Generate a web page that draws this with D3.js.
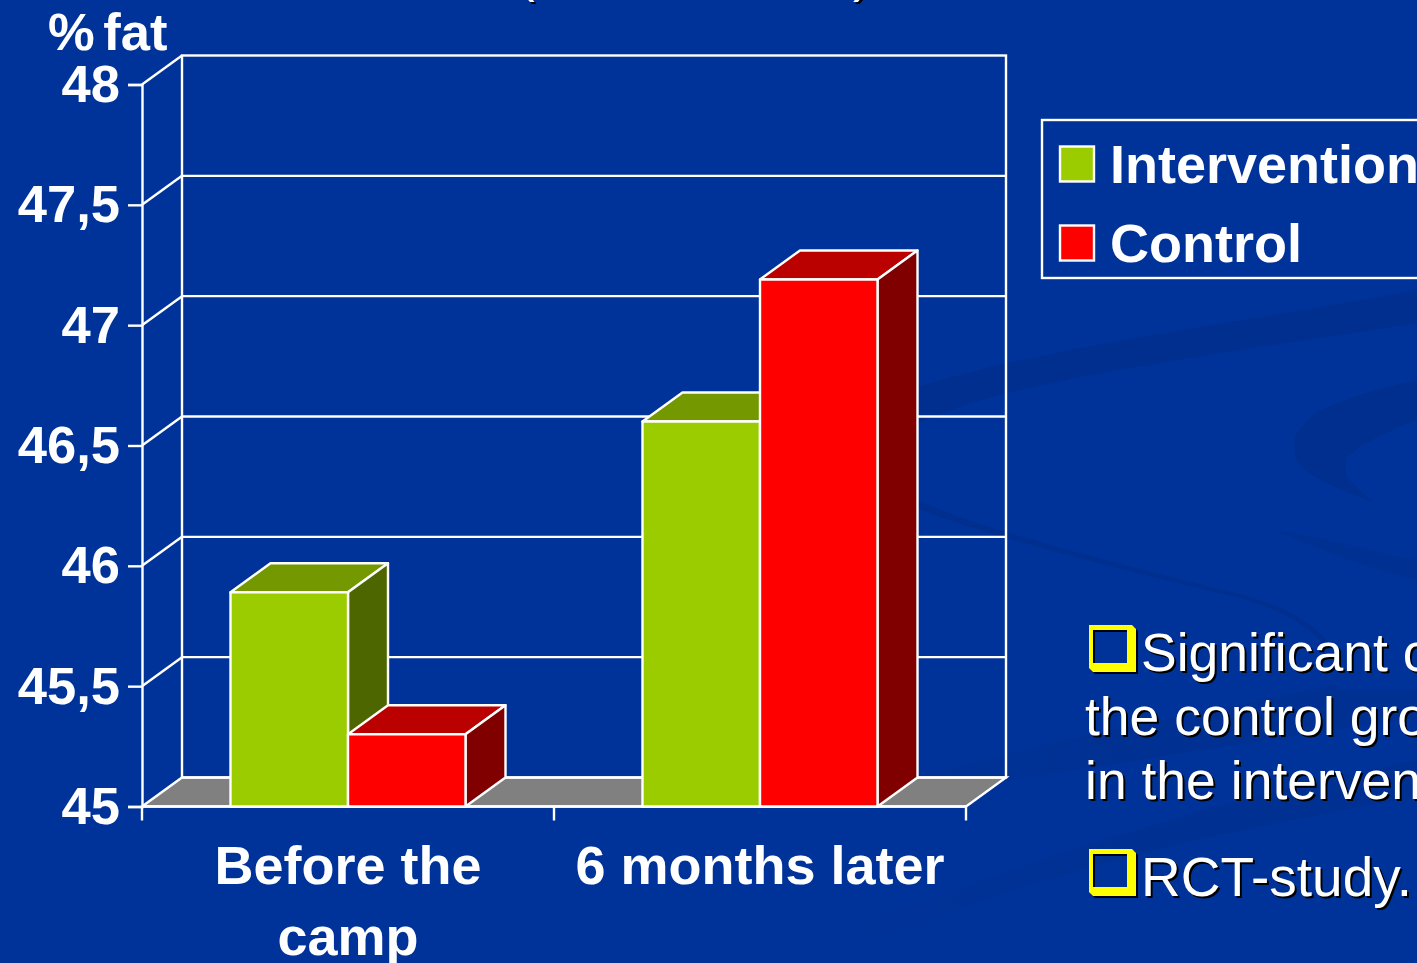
<!DOCTYPE html>
<html>
<head>
<meta charset="utf-8">
<title>% fat</title>
<script src="https://cdnjs.cloudflare.com/ajax/libs/d3/7.8.5/d3.min.js"></script>
<style>
	html, body { margin: 0; padding: 0; background: #003399; overflow: hidden; }
	svg { display: block; }
	text { font-family: "Liberation Sans", Arial, sans-serif; fill: #fff; }
	.bold { font-weight: 700; font-size: 54px; }
	.tick-label { font-weight: 700; font-size: 52.5px; }
	.note { font-size: 53.5px; }
</style>
</head>
<body>
<script>
var categories = ["Before the camp", "6 months later"];
var categoryLines = [["Before the", "camp"], ["6 months later"]];
var seriesNames = ["Intervention", "Control"];
var intervention = [45.89, 46.6];
var control = [45.3, 47.19];
var yTicks = [45, 45.5, 46, 46.5, 47, 47.5, 48];
var notes = ["Significant c", "the control gro", "in the interven", "RCT-study."];

var width = 1417, height = 963;
var depthX = 40, depthY = -29;
var lineWidth = 2.4;
var colors = {
	Intervention: { front: "#9bcc00", top: "#749900", side: "#4d6600" },
	Control: { front: "#ff0000", top: "#bb0000", side: "#800000" }
};

var svg = d3.select("body").append("svg")
	.attr("width", width)
	.attr("height", height);

var fade = svg.append("defs").append("linearGradient")
	.attr("id", "swoosh-fade")
	.attr("gradientUnits", "userSpaceOnUse")
	.attr("x1", 860).attr("x2", 1120)
	.attr("y1", 0).attr("y2", 0);
fade.append("stop").attr("offset", 0).attr("stop-color", "#002e8c").attr("stop-opacity", 0);
fade.append("stop").attr("offset", 1).attr("stop-color", "#002e8c").attr("stop-opacity", 0.55);

// background swooshes of the slide template
var swooshes = [
	"M918,387 C1050,345 1250,322 1417,290 L1417,323 C1280,345 1120,365 1007,393 C975,401 945,412 918,423 Z",
	"M1417,380 C1380,388 1345,398 1315,413 C1303,425 1294,434 1294,443 C1294,452 1296,460 1301,467 C1320,482 1345,492 1373,502 C1362,492 1353,484 1347,477 C1345,470 1345,463 1347,457 C1365,442 1390,430 1417,420 Z",
	"M918,500 C960,522 1100,560 1240,594 C1285,606 1320,625 1333,650 L1328,650 C1310,625 1280,610 1240,598 C1100,565 960,528 918,508 Z"
];
var fadedSwooshes = [
	"M1333,650 C1342,665 1340,678 1333,685 C1240,705 1130,725 1040,746 L880,785 L880,795 L1040,776 C1170,755 1300,735 1417,718 L1417,690 L1338,690 Z",
	"M850,925 C1000,875 1200,800 1417,760 L1417,797 C1200,835 1050,870 880,940 Z",
	"M1274,530 C1320,535 1370,552 1417,560 L1417,580 C1370,570 1320,550 1274,530 Z"
];
svg.append("g").selectAll("path")
	.data(swooshes)
	.join("path")
	.attr("d", function(d) { return d; })
	.attr("fill", "#002e8c")
	.attr("fill-opacity", 0.8);
svg.append("g").selectAll("path")
	.data(fadedSwooshes)
	.join("path")
	.attr("d", function(d) { return d; })
	.attr("fill", "url(#swoosh-fade)");

var x0 = d3.scaleBand().domain(categories).range([142, 966]);
var x1 = d3.scaleBand().domain(seriesNames).range([0, x0.bandwidth()]).paddingInner(0).paddingOuter(0.753);
var y = d3.scaleLinear().domain([45, 48]).range([806.5, 84.5]);

var seriesValues = { Intervention: intervention, Control: control };

function poly(points) {
	return "M" + points.map(function(p) { return p.join(","); }).join("L") + "Z";
}

// floor
var floor = svg.append("g");
floor.append("path")
	.attr("d", poly([
		[x0.range()[0], y(45)],
		[x0.range()[0] + depthX, y(45) + depthY],
		[x0.range()[1] + depthX, y(45) + depthY],
		[x0.range()[1], y(45)]
	]))
	.attr("fill", "#808080")
	.attr("stroke", "#fff")
	.attr("stroke-width", lineWidth);

// back wall and gridlines
var wall = svg.append("g").attr("fill", "none").attr("stroke", "#fff").attr("stroke-width", lineWidth);
wall.append("rect")
	.attr("x", x0.range()[0] + depthX)
	.attr("y", y(48) + depthY)
	.attr("width", x0.range()[1] - x0.range()[0])
	.attr("height", y(45) - y(48));
wall.selectAll("line.grid")
	.data(yTicks.slice(1, -1))
	.join("line")
	.attr("class", "grid")
	.attr("x1", x0.range()[0] + depthX)
	.attr("x2", x0.range()[1] + depthX)
	.attr("y1", function(d) { return y(d) + depthY; })
	.attr("y2", function(d) { return y(d) + depthY; });
wall.selectAll("line.side")
	.data(yTicks.slice(1))
	.join("line")
	.attr("class", "side")
	.attr("x1", x0.range()[0])
	.attr("x2", x0.range()[0] + depthX)
	.attr("y1", function(d) { return y(d); })
	.attr("y2", function(d) { return y(d) + depthY; });

// y axis
var yAxis = d3.axisLeft(y)
	.tickValues(yTicks)
	.tickSize(14)
	.tickPadding(8)
	.tickFormat(function(d) { return String(d).replace(".", ","); });
var yAxisG = svg.append("g")
	.attr("transform", "translate(" + x0.range()[0] + ",0)")
	.call(yAxis);
yAxisG.selectAll("line, path").attr("stroke", "#fff").attr("stroke-width", lineWidth);
yAxisG.selectAll("text")
	.attr("class", "tick-label")
	.attr("font-size", null)
	.attr("font-family", null)
	.attr("fill", null)
	.attr("dy", 17);
svg.append("text")
	.attr("class", "tick-label")
	.attr("x", 48)
	.attr("y", 50)
	.attr("word-spacing", -6)
	.text("% fat");

// x axis baseline and ticks
var xAxisG = svg.append("g").attr("stroke", "#fff").attr("stroke-width", lineWidth);
xAxisG.append("line")
	.attr("x1", x0.range()[0]).attr("x2", x0.range()[1])
	.attr("y1", y(45)).attr("y2", y(45));
xAxisG.selectAll("line.tick")
	.data(categories.map(function(c) { return x0(c); }).concat(x0.range()[1]))
	.join("line")
	.attr("class", "tick")
	.attr("x1", function(d) { return d; })
	.attr("x2", function(d) { return d; })
	.attr("y1", y(45))
	.attr("y2", y(45) + 14);

// 3d bars, one category at a time so the nearer faces cover the sides
categories.forEach(function(category, i) {
	var group = svg.append("g")
		.attr("transform", "translate(" + x0(category) + ",0)")
		.attr("stroke", "#fff")
		.attr("stroke-width", lineWidth)
		.attr("stroke-linejoin", "round");
	seriesNames.forEach(function(name) {
		var left = x1(name), right = left + x1.bandwidth();
		var top = y(seriesValues[name][i]), bottom = y(45);
		var bar = group.append("g");
		bar.append("path")
			.attr("d", poly([[left, top], [left + depthX, top + depthY], [right + depthX, top + depthY], [right, top]]))
			.attr("fill", colors[name].top);
		bar.append("path")
			.attr("d", poly([[right, top], [right + depthX, top + depthY], [right + depthX, bottom + depthY], [right, bottom]]))
			.attr("fill", colors[name].side);
		bar.append("rect")
			.attr("x", left)
			.attr("y", top)
			.attr("width", x1.bandwidth())
			.attr("height", bottom - top)
			.attr("fill", colors[name].front);
	});
});

// category labels
categories.forEach(function(category, i) {
	svg.append("g").selectAll("text")
		.data(categoryLines[i])
		.join("text")
		.attr("class", "bold")
		.attr("text-anchor", "middle")
		.attr("x", x0(category) + x0.bandwidth() / 2)
		.attr("y", function(d, j) { return 884 + j * 71; })
		.text(function(d) { return d; });
});

// legend, runs off the right edge of the slide
var legend = svg.append("g");
legend.append("rect")
	.attr("x", 1042).attr("y", 120)
	.attr("width", 420).attr("height", 158)
	.attr("fill", "none")
	.attr("stroke", "#fff")
	.attr("stroke-width", lineWidth);
var legendRows = legend.selectAll("g")
	.data(seriesNames)
	.join("g")
	.attr("transform", function(d, i) { return "translate(1060," + (146.5 + i * 79) + ")"; });
legendRows.append("rect")
	.attr("width", 34).attr("height", 35)
	.attr("fill", function(d) { return colors[d].front; })
	.attr("stroke", "#fff")
	.attr("stroke-width", lineWidth);
legendRows.append("text")
	.attr("class", "bold")
	.attr("x", 50)
	.attr("y", 36)
	.text(function(d) { return d; });

// text with the slide's drop shadow
function shadowText(parent, x, yPos, str, size) {
	[["#000", 2], ["#fff", 0]].forEach(function(layer) {
		parent.append("text")
			.attr("class", "note")
			.attr("x", x + layer[1])
			.attr("y", yPos + layer[1])
			.style("font-size", size ? size + "px" : null)
			.style("fill", layer[0])
			.text(str);
	});
}

// bottoms of the cut off slide title
var title = svg.append("g");
shadowText(title, 517, -9, "(");
shadowText(title, 853, -9, ")");

// notes on the right
var noteG = svg.append("g");
var noteY = [671, 735, 799, 896];
var noteX = [1141, 1085, 1085, 1141];
var noteSize = [53.5, 53.5, 53.5, 55];
notes.forEach(function(line, i) {
	shadowText(noteG, noteX[i], noteY[i], line, noteSize[i]);
});

// hollow yellow bullets
var bulletPath = "M0,0 H43 L47,4 V47 H4 L0,43 Z M4,5 V38 H38 V5 Z";
svg.append("g").selectAll("g")
	.data([625, 849])
	.join("g")
	.attr("transform", function(d) { return "translate(1089," + d + ")"; })
	.each(function() {
		var b = d3.select(this);
		b.append("path").attr("d", bulletPath).attr("fill", "#000").attr("fill-rule", "evenodd").attr("transform", "translate(2,2)");
		b.append("path").attr("d", bulletPath).attr("fill", "#ffff00").attr("fill-rule", "evenodd");
	});
</script>
</body>
</html>
